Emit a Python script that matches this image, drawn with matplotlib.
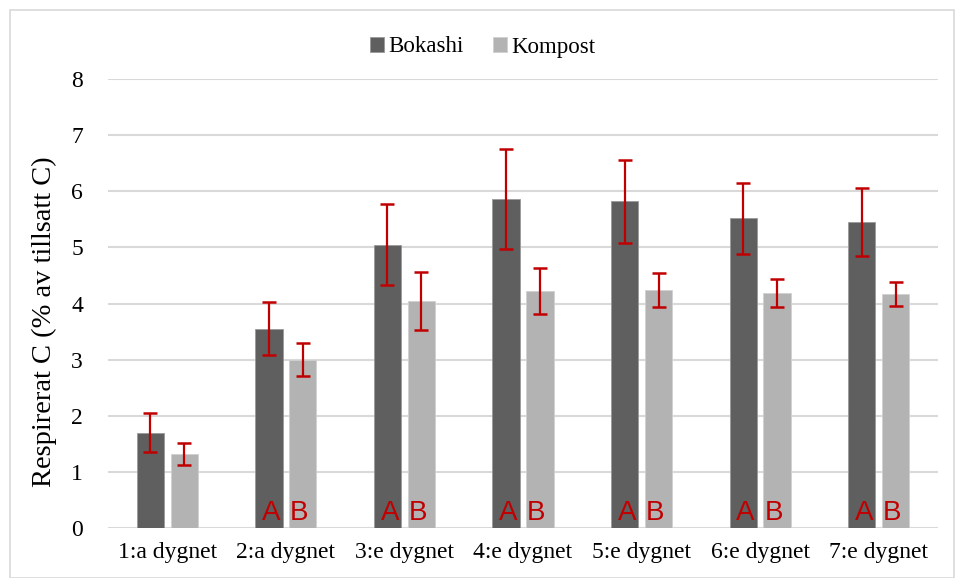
import numpy as np
import matplotlib.pyplot as plt
from matplotlib.patches import Rectangle

categories = ['1:a dygnet', '2:a dygnet', '3:e dygnet', '4:e dygnet',
              '5:e dygnet', '6:e dygnet', '7:e dygnet']
bokashi = [1.70, 3.55, 5.05, 5.86, 5.82, 5.52, 5.45]
bokashi_err = [0.35, 0.47, 0.72, 0.89, 0.74, 0.63, 0.61]
kompost = [1.32, 3.00, 4.04, 4.22, 4.24, 4.18, 4.17]
kompost_err = [0.20, 0.30, 0.52, 0.41, 0.30, 0.25, 0.21]
letters_b = ['', 'A', 'A', 'A', 'A', 'A', 'A']
letters_k = ['', 'B', 'B', 'B', 'B', 'B', 'B']

plt.rcParams['font.family'] = ['Liberation Serif', 'DejaVu Serif']

fig = plt.figure(figsize=(9.55, 5.78), dpi=100)
fig.patches.append(Rectangle((10 / 955, 0), 944 / 955, 1 - 10 / 578,
                             transform=fig.transFigure, fill=False,
                             edgecolor='#d9d9d9', linewidth=1.2))
ax = fig.add_axes([108 / 955, 1 - 528 / 578, 830 / 955, 449 / 578])

x = np.arange(len(categories))
w = 0.23
off = 0.143
ax.bar(x - off, bokashi, w, color='#5f5f5f', edgecolor='#9a9a9a', linewidth=0.6,
       label='Bokashi', zorder=2)
ax.bar(x + off, kompost, w, color='#b3b3b3', edgecolor='#d0d0d0', linewidth=0.6,
       label='Kompost', zorder=2)
ax.errorbar(x - off, bokashi, yerr=bokashi_err, fmt='none', ecolor='#c00000',
            elinewidth=1.6, capsize=4.8, capthick=1.8, zorder=3)
ax.errorbar(x + off, kompost, yerr=kompost_err, fmt='none', ecolor='#c00000',
            elinewidth=1.6, capsize=4.8, capthick=1.8, zorder=3)

for i in range(len(categories)):
    ax.text(x[i] - off + 0.02, 0.04, letters_b[i], color='#c00000', fontsize=20,
            family='Liberation Sans', ha='center', va='bottom', zorder=4)
    ax.text(x[i] + off - 0.03, 0.04, letters_k[i], color='#c00000', fontsize=20,
            family='Liberation Sans', ha='center', va='bottom', zorder=4)

ax.set_xlim(-0.5, len(categories) - 0.5)
ax.set_ylim(0, 8)
ax.set_yticks(range(0, 9))
ax.set_xticks(x)
ax.set_xticklabels(categories)
ax.tick_params(axis='both', length=0, labelsize=17, colors='black')
ax.tick_params(axis='x', pad=10)
ax.tick_params(axis='y', pad=18)
ax.grid(axis='y', color='#d9d9d9', linewidth=1.5, zorder=0)
ax.set_axisbelow(True)
for s in ax.spines.values():
    s.set_visible(False)
ax.set_ylabel('Respirerat C (% av tillsatt C)', fontsize=20.5)
ax.yaxis.set_label_coords(-0.062, 0.46)

ax.legend(loc='center', bbox_to_anchor=(483 / 955, 1 - 47 / 578), ncol=2,
          bbox_transform=fig.transFigure,
          frameon=False, fontsize=16.5, handlelength=0.6, handleheight=0.6,
          handletextpad=0.2, columnspacing=1.3)

fig.savefig('out.png', dpi=100)
